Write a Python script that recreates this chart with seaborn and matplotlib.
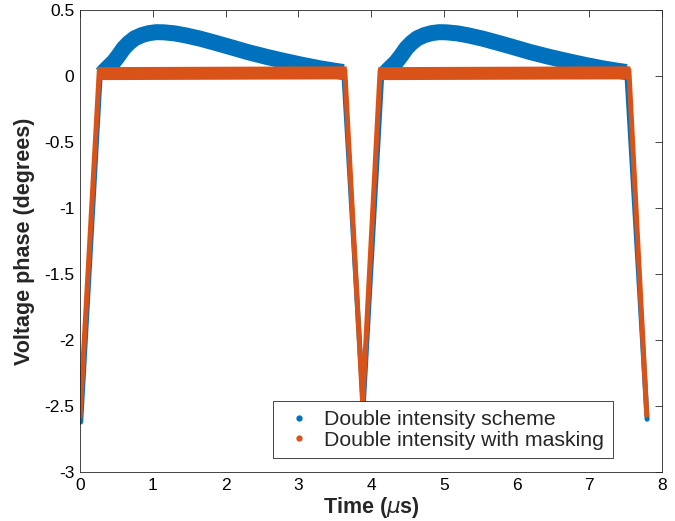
import matplotlib
matplotlib.use("Agg")
import matplotlib.pyplot as plt
import seaborn as sns
import pandas as pd
from matplotlib.lines import Line2D

# ---------------- data ----------------
series_names = ["Double intensity scheme", "Double intensity with masking"]
colors = ["#0072BD", "#D95319"]

# steep ramps (whole path, drawn thin)
blue_ramp_x = [0.010, 0.280, 3.625, 3.893, 4.150, 7.515, 7.795]
blue_ramp_y = [-2.62, 0.030, 0.035, -2.500, 0.030, 0.035, -2.600]
blue_first_x = [0.0, 0.0]
blue_first_y = [-2.62, -2.53]

# blue hump, period 1 and period 2 (centre of the thick band)
blue_hump1_x = [0.30, 0.34, 0.39, 0.46, 0.53, 0.60, 0.67, 0.75, 0.85, 0.95, 1.05, 1.15,
                1.30, 1.45, 1.65, 1.85, 2.05, 2.30, 2.55, 2.80, 3.05, 3.30, 3.50, 3.62]
blue_hump1_y = [0.015, 0.040, 0.068, 0.105, 0.155, 0.210, 0.250, 0.285, 0.310, 0.325, 0.332, 0.331,
                0.323, 0.308, 0.283, 0.253, 0.222, 0.182, 0.147, 0.115, 0.085, 0.058, 0.040, 0.030]
blue_hump2_x = [4.185, 4.225, 4.275, 4.345, 4.415, 4.485, 4.555, 4.635, 4.735, 4.835, 4.935, 5.035,
                5.185, 5.335, 5.535, 5.735, 5.935, 6.185, 6.435, 6.685, 6.935, 7.185, 7.385, 7.510]
blue_hump2_y = [0.015, 0.040, 0.068, 0.105, 0.155, 0.210, 0.250, 0.285, 0.310, 0.325, 0.332, 0.331,
                0.323, 0.308, 0.283, 0.253, 0.222, 0.182, 0.147, 0.115, 0.085, 0.058, 0.040, 0.030]

orange_ramp_x = [0.000, 0.265, 3.640, 3.885, 4.125, 7.545, 7.790]
orange_ramp_y = [-2.58, 0.040, 0.045, -2.480, 0.040, 0.045, -2.570]

# flat plateau of the masked scheme
orange_band1_x = [0.235, 3.665]
orange_band1_y = [0.018, 0.024]
orange_band2_x = [4.100, 7.565]
orange_band2_y = [0.018, 0.024]

xticks = [0, 1, 2, 3, 4, 5, 6, 7, 8]
yticks = [-3, -2.5, -2, -1.5, -1, -0.5, 0, 0.5]

# ---------------- style ----------------
sns.set_style("white")
plt.rcParams["font.family"] = ["Liberation Sans", "DejaVu Sans"]
plt.rcParams["mathtext.fontset"] = "dejavusans"

W, H = 675, 521
fig = plt.figure(figsize=(W / 100, H / 100), dpi=100)
ax = fig.add_axes([80 / W, 1 - 472 / H, 582 / W, 462 / H])

px = 72 / 100  # points per pixel


def seg(x, y, color, lw, cap="round"):
    df = pd.DataFrame({"x": x, "y": y, "u": 0})
    sns.lineplot(data=df, x="x", y="y", units="u", estimator=None, sort=False,
                 color=color, linewidth=lw, ax=ax, legend=False,
                 solid_capstyle=cap, solid_joinstyle="round")


# blue series
seg(blue_ramp_x, blue_ramp_y, colors[0], 5.0 * px)
seg(blue_first_x, blue_first_y, colors[0], 5.5 * px)
seg(blue_hump1_x, blue_hump1_y, colors[0], 16 * px, cap="butt")
seg(blue_hump2_x, blue_hump2_y, colors[0], 16 * px, cap="butt")
# orange series
seg(orange_ramp_x, orange_ramp_y, colors[1], 5.0 * px)
seg(orange_band1_x, orange_band1_y, colors[1], 13 * px, cap="butt")
seg(orange_band2_x, orange_band2_y, colors[1], 13 * px, cap="butt")

ax.set_xlim(0, 8)
ax.set_ylim(-3, 0.5)
ax.set_xticks(xticks)
ax.set_xticklabels([f"{t:g}" for t in xticks])
ax.set_yticks(yticks)
ax.set_yticklabels([f"{t:g}" for t in yticks])

axc = "#262626"
for s in ax.spines.values():
    s.set_visible(True)
    s.set_color(axc)
    s.set_linewidth(0.6)
ax.tick_params(direction="in", length=5, width=0.6, color=axc, labelcolor="#000000",
               labelsize=12.5, top=True, right=True, pad=4)

ax.set_xlabel(r"Time ($\mu$s)", fontsize=15.5, fontweight="bold", labelpad=2)
ax.set_ylabel("Voltage phase (degrees)", fontsize=15.5, fontweight="bold", labelpad=7)

handles = [Line2D([], [], marker=".", linestyle="none", markersize=7, color=c) for c in colors]
leg = ax.legend(handles, series_names, loc="lower right", bbox_to_anchor=(0.915, 0.030),
                fontsize=15.3, frameon=True, fancybox=False, framealpha=1,
                edgecolor=axc, borderpad=0.4, labelspacing=0.08, handlelength=1.6,
                handletextpad=0.4, borderaxespad=0)
leg.get_frame().set_linewidth(0.6)

fig.savefig("out.png", dpi=100)
